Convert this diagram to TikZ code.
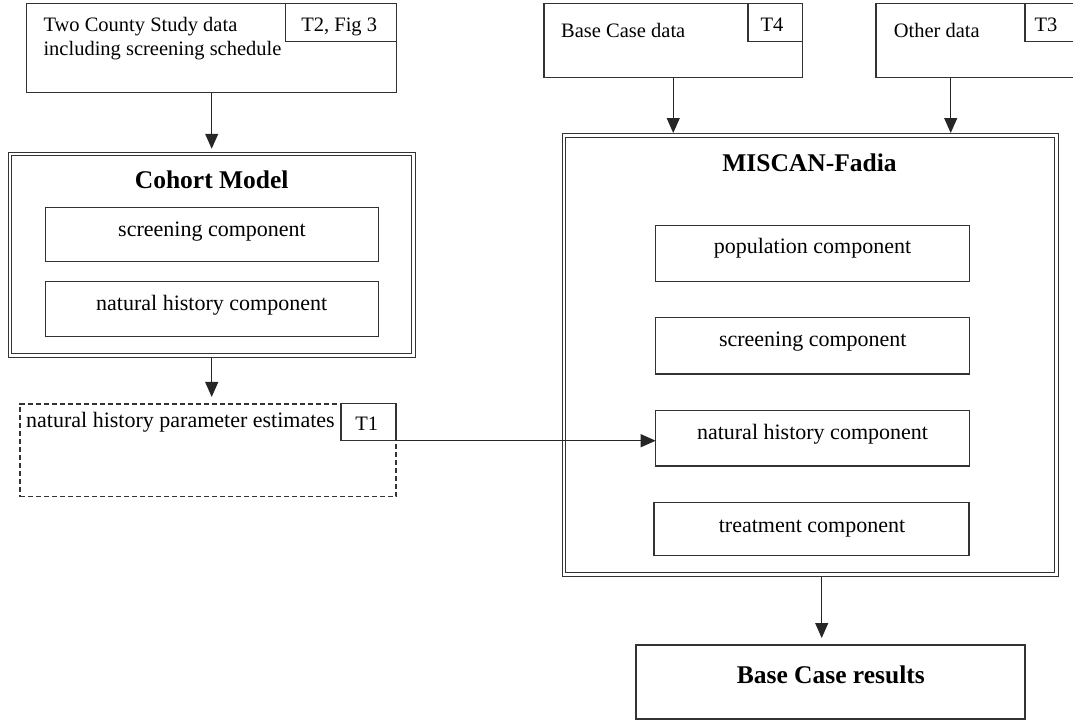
\documentclass[tikz,border=0pt]{standalone}
\usepackage{fontspec}
\setmainfont{Liberation Serif}
\usetikzlibrary{arrows.meta,calc}
\begin{document}
\begin{tikzpicture}[x=1pt,y=-1pt,
  box/.style={draw=black!80, line width=1.1pt, rectangle, inner sep=0pt, outer sep=0pt},
  dbox/.style={box, double, double distance=2.4pt, outer sep=2.3pt},
  dashbox/.style={box, dash pattern=on 5pt off 3pt},
  arr/.style={draw=black!85, line width=1.1pt, -{Triangle[length=15pt,width=13pt]}},
  hdr/.style={inner sep=0pt, font=\fontsize{20.5}{24}\selectfont},
  cmp/.style={inner sep=0pt, anchor=base, font=\fontsize{22}{26}\selectfont},
  ttl/.style={inner sep=0pt, anchor=base, font=\fontsize{25.5}{30}\selectfont\bfseries}
]
\useasboundingbox (0,0) rectangle (1073,720);

% ---------- left column ----------
\node[box, minimum width=370pt, minimum height=89.4pt] (tcs) at (211.7,48) {};
\node[box, minimum width=111pt, minimum height=37.7pt] (tcstag) at (341.2,22.2) {};
\node[hdr, anchor=base] at (339.2,31) {T2, Fig 3};
\node[hdr, anchor=base west] at (43.3,31.7) {Two County Study data};
\node[hdr, anchor=base west] at (43.3,55) {including screening schedule};

\node[dbox, minimum width=403.3pt, minimum height=201.3pt] (cohort) at (211.7,254.7) {};
\node[ttl] at (211.7,188.3) {Cohort Model};
\node[box, minimum width=333.3pt, minimum height=54pt] (cscr) at (211.7,234.7) {};
\node[cmp] at (212,236.7) {screening component};
\node[box, minimum width=333.3pt, minimum height=54.3pt] (cnh) at (211.7,308.9) {};
\node[cmp] at (211.7,310.7) {natural history component};

\node[dashbox, minimum width=376pt, minimum height=92.7pt] (nhp) at (208,450.3) {};
\node[box, fill=white, minimum width=55pt, minimum height=37.4pt] (t1) at (368.5,422) {};
\node[hdr, anchor=base] at (366.7,430.7) {T1};
\node[cmp, anchor=base west] at (26,427.3) {natural history parameter estimates};

% ---------- right column ----------
\node[box, minimum width=258.5pt, minimum height=74.4pt] (bcd) at (673.25,40.5) {};
\node[box, minimum width=54.5pt, minimum height=37.7pt] (bcdtag) at (775.25,22.2) {};
\node[hdr, anchor=base] at (772,31.7) {T4};
\node[hdr, anchor=base west] at (561,37.7) {Base Case data};

\node[box, minimum width=204pt, minimum height=74.4pt] (oth) at (978,40.5) {};
\node[box, minimum width=55pt, minimum height=37.7pt] (othtag) at (1052.5,22.2) {};
\node[hdr, anchor=base] at (1046,31.2) {T3};
\node[hdr, anchor=base west] at (893.6,37.7) {Other data};

\node[dbox, minimum width=492.5pt, minimum height=439.2pt] (mis) at (810.25,354.9) {};
\node[ttl] at (809.5,171.7) {MISCAN-Fadia};
\node[box, minimum width=313.6pt, minimum height=56pt] (mpop) at (812.5,253.7) {};
\node[cmp] at (812.5,253.3) {population component};
\node[box, minimum width=313.6pt, minimum height=56.3pt] (mscr) at (812.5,345.85) {};
\node[cmp] at (812.8,346.7) {screening component};
\node[box, minimum width=313.6pt, minimum height=55.3pt] (mnh) at (812.5,438.35) {};
\node[cmp] at (812.5,439.3) {natural history component};
\node[box, minimum width=315pt, minimum height=53pt] (mtr) at (811.5,529.2) {};
\node[cmp] at (812,532.7) {treatment component};

\node[box, minimum width=389pt, minimum height=74pt] (bcr) at (830.5,682) {};
\node[ttl] at (830.8,683.3) {Base Case results};

% ---------- connectors ----------
\draw[arr, shorten >=3pt] (tcs.south) -- (cohort.north);
\draw[arr, shorten >=7pt] (cohort.south) -- (nhp.north -| cohort.south);
\draw[arr] (t1.south east) -- (t1.south east -| mnh.west);
\draw[arr] (bcd.south) -- (bcd.south |- mis.north);
\coordinate (o1) at ([xshift=74.7pt]oth.south west);
\draw[arr] (o1) -- (o1 |- mis.north);
\coordinate (m1) at ([xshift=11.45pt]mis.south);
\draw[arr, shorten >=7pt] (m1) -- (m1 |- bcr.north);
\end{tikzpicture}
\end{document}
